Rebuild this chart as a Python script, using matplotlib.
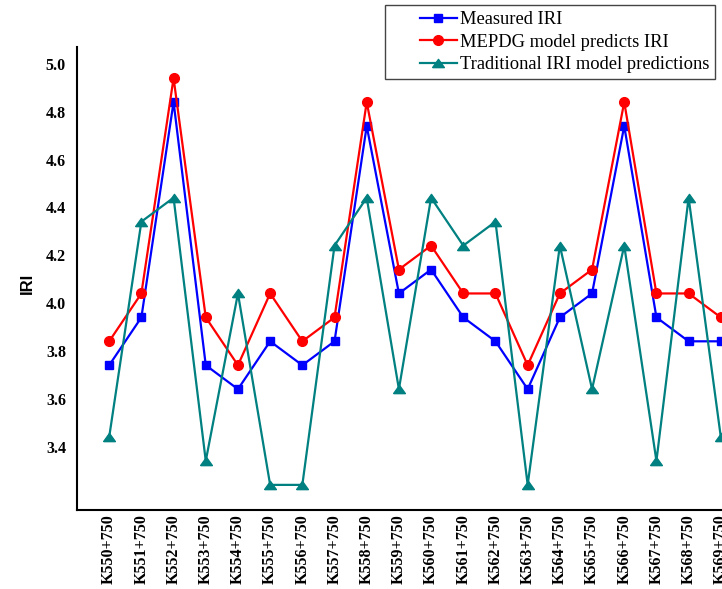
import matplotlib
matplotlib.use('Agg')
import matplotlib.pyplot as plt
import matplotlib.transforms as mtransforms
from matplotlib.legend_handler import HandlerLine2D

# Road sections (stations)
sections = ['K550+750', 'K551+750', 'K552+750', 'K553+750', 'K554+750',
            'K555+750', 'K556+750', 'K557+750', 'K558+750', 'K559+750',
            'K560+750', 'K561+750', 'K562+750', 'K563+750', 'K564+750',
            'K565+750', 'K566+750', 'K567+750', 'K568+750', 'K569+750']

# IRI values per section
measured_iri = [3.77, 3.97, 4.87, 3.77, 3.67, 3.87, 3.77, 3.87, 4.77, 4.07,
                4.17, 3.97, 3.87, 3.67, 3.97, 4.07, 4.77, 3.97, 3.87, 3.87]
mepdg_iri = [3.87, 4.07, 4.97, 3.97, 3.77, 4.07, 3.87, 3.97, 4.87, 4.17,
             4.27, 4.07, 4.07, 3.77, 4.07, 4.17, 4.87, 4.07, 4.07, 3.97]
traditional_iri = [3.47, 4.37, 4.47, 3.37, 4.07, 3.27, 3.27, 4.27, 4.47, 3.67,
                   4.47, 4.27, 4.37, 3.27, 4.27, 3.67, 4.27, 3.37, 4.47, 3.47]

y_ticks = [3.4, 3.6, 3.8, 4.0, 4.2, 4.4, 4.6, 4.8, 5.0]

BLUE = '#0000FF'
RED = '#FF0000'
TEAL = '#008080'

SERIF = ['Liberation Serif', 'DejaVu Serif']
SANS = ['Liberation Sans', 'DejaVu Sans']

# flattened triangle marker
TRIANGLE = [(-1, -0.7), (1, -0.7), (0, 0.7), (-1, -0.7)]


class ShiftedLineHandler(HandlerLine2D):
    """Legend handle with some blank room on its left side."""

    def __init__(self, shift, **kw):
        super().__init__(**kw)
        self.shift = shift

    def create_artists(self, legend, orig_handle, xdescent, ydescent,
                       width, height, fontsize, trans):
        return super().create_artists(legend, orig_handle,
                                      xdescent - self.shift, ydescent,
                                      width - self.shift, height,
                                      fontsize, trans)


fig = plt.figure(figsize=(7.22, 5.89), dpi=100)
# the plot area runs past the right border of the figure
ax = fig.add_axes([77 / 722, 79 / 589, 676 / 722, 463 / 589])

x = list(range(len(sections)))

ax.plot(x, measured_iri, color=BLUE, linewidth=1.6, marker='s',
        markersize=6.2, label='Measured IRI')
ax.plot(x, mepdg_iri, color=RED, linewidth=1.6, marker='o',
        markersize=7, label='MEPDG model predicts IRI')
ax.plot(x, traditional_iri, color=TEAL, linewidth=1.6, marker=TRIANGLE,
        markersize=8.5, label='Traditional IRI model predictions')

ax.set_xlim(-1, 20)
ax.set_ylim(3.165, 5.10)

ax.set_xticks(x)
ax.set_xticklabels(sections, rotation=90, fontfamily=SERIF,
                   fontweight='bold', fontsize=11.5)
ax.set_yticks(y_ticks)
ax.set_yticklabels(['%.1f' % v for v in y_ticks], fontfamily=SERIF,
                   fontweight='bold', fontsize=11.5)
ax.tick_params(axis='x', length=0, pad=3)
ax.tick_params(axis='y', length=0, pad=8)

# lift the value labels a little
lift = mtransforms.ScaledTranslation(0, 0.07, fig.dpi_scale_trans)
for lbl in ax.get_yticklabels():
    lbl.set_transform(lbl.get_transform() + lift)

ax.set_ylabel('IRI', fontfamily=SANS, fontweight='bold', fontsize=12)
ax.yaxis.set_label_coords(-0.063, 0.49)

ax.spines['top'].set_visible(False)
ax.spines['right'].set_visible(False)
ax.spines['left'].set_linewidth(1.5)
ax.spines['bottom'].set_linewidth(1.5)

# Legend sits above the plot area
handler = ShiftedLineHandler(shift=21)
leg = fig.legend(loc='upper left', bbox_to_anchor=(385 / 722, 1 - 5 / 589),
                 prop={'family': SERIF, 'size': 13.3},
                 handlelength=3.55, handletextpad=0.16, borderpad=0.33,
                 labelspacing=0.3, borderaxespad=0, fancybox=False,
                 framealpha=1, edgecolor='#444444',
                 handler_map={l: handler for l in ax.get_lines()})
leg.get_frame().set_linewidth(1.0)

plt.savefig('out.png', dpi=100)
